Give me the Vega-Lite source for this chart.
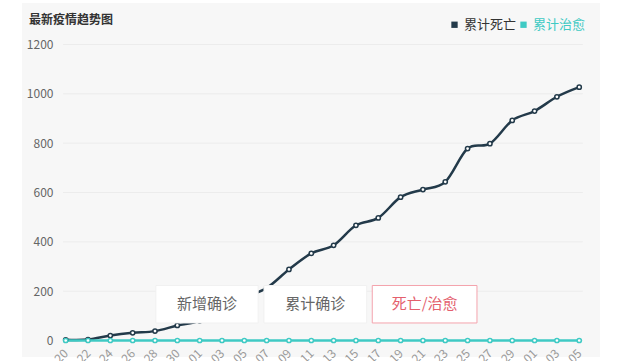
{
  "$schema": "https://vega.github.io/schema/vega-lite/v6.json",
  "autosize": {"type": "none"},
  "padding": {"left": 22, "top": 3, "right": 20, "bottom": 4},
  "width": 578,
  "height": 354,
  "background": "white",
  "config": {
    "view": {"fill": "#f7f7f7", "stroke": null},
    "font": "Noto Sans CJK SC",
    "axisX": {
      "labelOverlap": false,
      "labelAngle": -45,
      "labelAlign": "right",
      "labelBaseline": "middle",
      "labelColor": "#9a9a9a",
      "labelFontSize": 12,
      "labelPadding": 2,
      "labelBound": false,
      "labelFlush": false,
      "domain": false,
      "ticks": false,
      "tickSize": 0,
      "grid": false,
      "offset": -8
    }
  },
  "title": {
    "text": "最新疫情趋势图",
    "anchor": "start",
    "frame": "group",
    "fontSize": 12,
    "fontWeight": "bold",
    "color": "#333333",
    "baseline": "top",
    "offset": -10,
    "dx": 7,
    "dy": 14
  },
  "datasets": {
    "trend": [
      {"i": 0, "date": "01-20", "series": "累计死亡", "value": 3},
      {"i": 1, "date": "01-22", "series": "累计死亡", "value": 4},
      {"i": 2, "date": "01-24", "series": "累计死亡", "value": 20},
      {"i": 3, "date": "01-26", "series": "累计死亡", "value": 31},
      {"i": 4, "date": "01-28", "series": "累计死亡", "value": 38},
      {"i": 5, "date": "01-30", "series": "累计死亡", "value": 61},
      {"i": 6, "date": "02-01", "series": "累计死亡", "value": 80},
      {"i": 7, "date": "02-03", "series": "累计死亡", "value": 128},
      {"i": 8, "date": "02-05", "series": "累计死亡", "value": 175},
      {"i": 9, "date": "02-07", "series": "累计死亡", "value": 213},
      {"i": 10, "date": "02-09", "series": "累计死亡", "value": 288},
      {"i": 11, "date": "02-11", "series": "累计死亡", "value": 353},
      {"i": 12, "date": "02-13", "series": "累计死亡", "value": 386},
      {"i": 13, "date": "02-15", "series": "累计死亡", "value": 467},
      {"i": 14, "date": "02-17", "series": "累计死亡", "value": 497},
      {"i": 15, "date": "02-19", "series": "累计死亡", "value": 581},
      {"i": 16, "date": "02-21", "series": "累计死亡", "value": 612},
      {"i": 17, "date": "02-23", "series": "累计死亡", "value": 643},
      {"i": 18, "date": "02-25", "series": "累计死亡", "value": 778},
      {"i": 19, "date": "02-27", "series": "累计死亡", "value": 798},
      {"i": 20, "date": "02-29", "series": "累计死亡", "value": 892},
      {"i": 21, "date": "03-01", "series": "累计死亡", "value": 930},
      {"i": 22, "date": "03-03", "series": "累计死亡", "value": 988},
      {"i": 23, "date": "03-05", "series": "累计死亡", "value": 1027},
      {"i": 0, "date": "01-20", "series": "累计治愈", "value": 0},
      {"i": 1, "date": "01-22", "series": "累计治愈", "value": 0},
      {"i": 2, "date": "01-24", "series": "累计治愈", "value": 0},
      {"i": 3, "date": "01-26", "series": "累计治愈", "value": 0},
      {"i": 4, "date": "01-28", "series": "累计治愈", "value": 0},
      {"i": 5, "date": "01-30", "series": "累计治愈", "value": 0},
      {"i": 6, "date": "02-01", "series": "累计治愈", "value": 0},
      {"i": 7, "date": "02-03", "series": "累计治愈", "value": 0},
      {"i": 8, "date": "02-05", "series": "累计治愈", "value": 0},
      {"i": 9, "date": "02-07", "series": "累计治愈", "value": 0},
      {"i": 10, "date": "02-09", "series": "累计治愈", "value": 0},
      {"i": 11, "date": "02-11", "series": "累计治愈", "value": 0},
      {"i": 12, "date": "02-13", "series": "累计治愈", "value": 0},
      {"i": 13, "date": "02-15", "series": "累计治愈", "value": 0},
      {"i": 14, "date": "02-17", "series": "累计治愈", "value": 0},
      {"i": 15, "date": "02-19", "series": "累计治愈", "value": 0},
      {"i": 16, "date": "02-21", "series": "累计治愈", "value": 0},
      {"i": 17, "date": "02-23", "series": "累计治愈", "value": 0},
      {"i": 18, "date": "02-25", "series": "累计治愈", "value": 0},
      {"i": 19, "date": "02-27", "series": "累计治愈", "value": 0},
      {"i": 20, "date": "02-29", "series": "累计治愈", "value": 0},
      {"i": 21, "date": "03-01", "series": "累计治愈", "value": 0},
      {"i": 22, "date": "03-03", "series": "累计治愈", "value": 0},
      {"i": 23, "date": "03-05", "series": "累计治愈", "value": 0}
    ],
    "grid": [
      {"g": 0}, {"g": 200}, {"g": 400}, {"g": 600}, {"g": 800}, {"g": 1000}, {"g": 1200}
    ],
    "buttons": [
      {"label": "新增确诊", "x0": 4.04, "x1": 8.62, "y0": 71, "y1": 223},
      {"label": "累计确诊", "x0": 8.88, "x1": 13.48, "y0": 71, "y1": 223},
      {"label": "死亡/治愈", "x0": 13.73, "x1": 18.42, "y0": 71, "y1": 223}
    ]
  },
  "encoding": {
    "x": {
      "type": "quantitative",
      "scale": {"domain": [-1.957, 23.93], "nice": false, "zero": false},
      "axis": {
        "title": null,
        "values": [0,1,2,3,4,5,6,7,8,9,10,11,12,13,14,15,16,17,18,19,20,21,22,23],
        "labelExpr": "['01-20','01-22','01-24','01-26','01-28','01-30','02-01','02-03','02-05','02-07','02-09','02-11','02-13','02-15','02-17','02-19','02-21','02-23','02-25','02-27','02-29','03-01','03-03','03-05'][datum.value]"
      }
    },
    "y": {
      "type": "quantitative",
      "scale": {"domain": [-66.9, 1368.1], "nice": false, "zero": false},
      "axis": {
        "title": null,
        "format": "d",
        "values": [0, 200, 400, 600, 800, 1000, 1200],
        "labelColor": "#666666",
        "labelFontSize": 12,
        "labelPadding": 0,
        "domain": false,
        "ticks": false,
        "tickSize": 0,
        "grid": false,
        "offset": -31
      }
    }
  },
  "layer": [
    {
      "data": {"name": "grid"},
      "mark": {"type": "rule", "color": "#ececec", "strokeWidth": 1},
      "encoding": {
        "y": {"field": "g"},
        "x": {"datum": -0.12},
        "x2": {"datum": 23.16}
      }
    },
    {
      "data": {"name": "trend"},
      "mark": {
        "type": "line",
        "interpolate": "cardinal",
        "strokeWidth": 2.5,
        "point": {"filled": false, "fill": "white", "size": 18, "strokeWidth": 1.5}
      },
      "encoding": {
        "x": {"field": "i"},
        "y": {"field": "value"},
        "color": {
          "field": "series",
          "type": "nominal",
          "scale": {"domain": ["累计死亡", "累计治愈"], "range": ["#233a4a", "#3fcac4"]},
          "legend": {
            "title": null,
            "orient": "none",
            "legendX": 426,
            "legendY": 15,
            "direction": "horizontal",
            "symbolType": "square",
            "symbolSize": 40,
            "symbolStrokeWidth": 0,
            "labelFontSize": 13,
            "labelOffset": 3,
            "columnPadding": 0,
            "encode": {
              "symbols": {"update": {"fill": {"signal": "datum.value === '累计治愈' ? '#3fcac4' : '#233a4a'"}}},
              "labels": {"update": {"fill": {"signal": "datum.value === '累计治愈' ? '#3fcac4' : '#333333'"}}}
            }
          }
        },
        "order": {"field": "i", "type": "quantitative"}
      }
    },
    {
      "data": {"name": "buttons"},
      "mark": {"type": "rect", "fill": "white", "strokeWidth": 1},
      "encoding": {
        "x": {"field": "x0"},
        "x2": {"field": "x1"},
        "y": {"field": "y0"},
        "y2": {"field": "y1"},
        "stroke": {
          "condition": {"test": "datum.label === '死亡/治愈'", "value": "#f4a3ad"},
          "value": "#f1f1f1"
        }
      }
    },
    {
      "data": {"name": "buttons"},
      "transform": [
        {"calculate": "(datum.x0 + datum.x1) / 2", "as": "xm"},
        {"calculate": "(datum.y0 + datum.y1) / 2", "as": "ym"}
      ],
      "mark": {"type": "text", "fontSize": 15, "align": "center", "baseline": "middle"},
      "encoding": {
        "x": {"field": "xm"},
        "y": {"field": "ym"},
        "text": {"field": "label"},
        "color": {
          "condition": {"test": "datum.label === '死亡/治愈'", "value": "#e4606d"},
          "value": "#666666"
        }
      }
    }
  ]
}
